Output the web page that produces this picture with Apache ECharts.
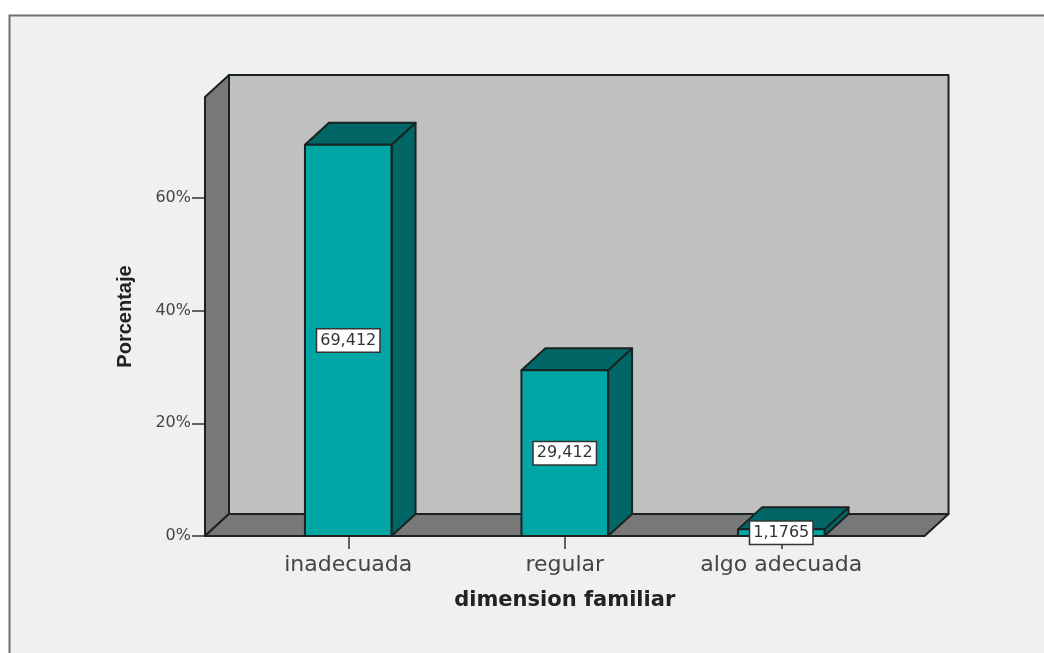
<!DOCTYPE html>
<html><head><meta charset="utf-8">
<style>html,body{margin:0;padding:0;background:#fff}#c{width:1044px;height:653px}</style>
<script src="https://cdn.jsdelivr.net/npm/echarts@6/dist/echarts.min.js"></script>
</head><body><div id="c"></div>
<script>
var categories = ['inadecuada', 'regular', 'algo adecuada'];
var percentages = [69.412, 29.412, 1.1765];
var barLabels = ['69,412', '29,412', '1,1765'];
var yTicks = [0, 20, 40, 60];
var yMax = 77.9;

var DX = 24, DY = 22, EDGE = '#1a2222';
var chart = echarts.init(document.getElementById('c'));

function poly(points, fill, stroke, w) {
  return { type: 'polygon', shape: { points: points }, style: { fill: fill, stroke: stroke || EDGE, lineWidth: w || 2, lineJoin: 'round' } };
}

chart.setOption({
  animation: false,
  backgroundColor: '#ffffff',
  graphic: [{
    type: 'rect', z: -10, silent: true,
    shape: { x: 9.5, y: 15.5, width: 1100, height: 700 },
    style: { fill: '#f0f0f0', stroke: '#6e6e6e', lineWidth: 2 }
  }],
  grid: { left: 240, top: 97, width: 649.5, height: 439 },
  xAxis: {
    type: 'category', data: categories,
    axisLine: { show: false },
    axisTick: { show: true, alignWithLabel: true, length: 13, lineStyle: { color: '#333', width: 1.5 } },
    axisLabel: { interval: 0, hideOverlap: false, fontFamily: 'DejaVu Sans', fontSize: 22, color: '#444', margin: 18 },
    name: 'dimension familiar', nameLocation: 'middle', nameGap: 54,
    nameTextStyle: { fontFamily: 'DejaVu Sans', fontWeight: 'bold', fontSize: 21, color: '#222' }
  },
  yAxis: {
    type: 'value', min: 0, max: yMax, interval: 20, offset: 35,
    axisLine: { show: false },
    splitLine: { show: false },
    axisTick: { show: true, customValues: yTicks, length: 13, lineStyle: { color: '#333', width: 1.5 } },
    axisLabel: { customValues: yTicks, formatter: '{value}%', fontFamily: 'DejaVu Sans', fontSize: 16, color: '#444', margin: 14, padding: [6, 0, 0, 0] },
    name: 'Porcentaje', nameLocation: 'middle', nameGap: 70, nameRotate: 90,
    nameTextStyle: { fontFamily: 'Liberation Sans', fontWeight: 'bold', fontSize: 20, color: '#222' }
  },
  series: [{
    type: 'custom', z: 1, silent: true, clip: false, data: [[0]],
    renderItem: function (params, api) {
      var cs = params.coordSys, pad = 35;
      var l = cs.x - pad, r = cs.x + cs.width + pad, b = api.coord([0, 0])[1], t = api.coord([0, yMax])[1];
      return { type: 'group', children: [
        poly([[l + DX, t - DY], [r + DX, t - DY], [r + DX, b - DY], [l + DX, b - DY]], '#c0c0c0'),
        poly([[l, t], [l + DX, t - DY], [l + DX, b - DY], [l, b]], '#787878'),
        poly([[l, b], [l + DX, b - DY], [r + DX, b - DY], [r, b]], '#787878')
      ] };
    }
  }, {
    type: 'custom', z: 2, silent: true, clip: false,
    data: categories.map(function (c, i) { return [i, percentages[i], barLabels[i]]; }),
    encode: { x: 0, y: 1 },
    renderItem: function (params, api) {
      var top = api.coord([api.value(0), api.value(1)]);
      var base = api.coord([api.value(0), 0]);
      var mid = api.coord([api.value(0), api.value(1) / 2]);
      var w = api.size([1, 0])[0] * 0.4;
      var x0 = top[0] - w / 2, x1 = top[0] + w / 2, y0 = top[1], y1 = base[1];
      return { type: 'group', children: [
        poly([[x1, y0], [x1 + DX, y0 - DY], [x1 + DX, y1 - DY], [x1, y1]], '#006666'),
        poly([[x0, y0], [x0 + DX, y0 - DY], [x1 + DX, y0 - DY], [x1, y0]], '#006666'),
        poly([[x0, y0], [x1, y0], [x1, y1], [x0, y1]], '#00a6a6'),
        { type: 'text', z2: 10, style: {
            x: top[0], y: mid[1], text: barLabels[params.dataIndex], align: 'center', verticalAlign: 'middle',
            fontFamily: 'DejaVu Sans', fontSize: 16, fill: '#333',
            backgroundColor: '#ffffff', borderColor: '#333', borderWidth: 1.5, padding: [3, 3, 3, 3]
        } }
      ] };
    }
  }]
});
</script></body></html>
